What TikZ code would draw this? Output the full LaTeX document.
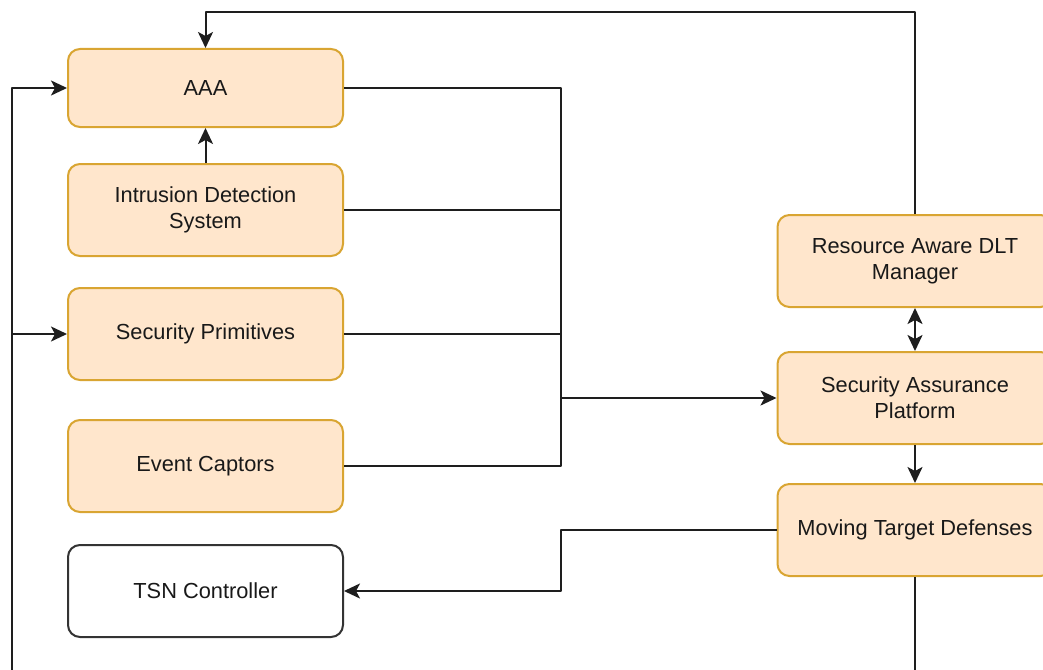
\documentclass[tikz,border=0pt]{standalone}
\usepackage{fontspec}
\setmainfont{Liberation Sans}
\usetikzlibrary{arrows.meta}
\definecolor{boxfill}{HTML}{FFE6CC}
\definecolor{boxline}{HTML}{D9A532}
\definecolor{linecol}{HTML}{1E1E1E}
\definecolor{tsnline}{HTML}{333333}
\tikzset{
  box/.style={draw=boxline, fill=boxfill, line width=2pt, rounded corners=12pt,
    minimum width=275pt, minimum height=92pt, align=center, inner sep=0pt,
    text=black!90, font=\fontsize{21.8pt}{26pt}\selectfont},
  whitebox/.style={box, draw=tsnline, fill=white},
  conn/.style={draw=linecol, line width=2pt},
  tip/.style={},
  arr/.style={conn, -{Stealth[length=16pt,width=15pt,inset=4pt]}},
  darr/.style={conn, {Stealth[length=16pt,width=15pt,inset=4pt]}-{Stealth[length=16pt,width=15pt,inset=4pt]}}
}
\begin{document}
\begin{tikzpicture}[x=1pt, y=-1pt]
\useasboundingbox (0,0) rectangle (1043,669);
\clip (0,0) rectangle (1043,669);
\fill[white] (0,0) rectangle (1043,669);

\node[box, minimum height=78pt] (aaa) at (205.5,88) {AAA};
\node[box] (ids) at (205.5,210) {Intrusion Detection\\System};
\node[box] (sp) at (205.5,334) {Security Primitives};
\node[box] (ec) at (205.5,466) {Event Captors};
\node[whitebox] (tsn) at (205.5,591) {TSN Controller};

\node[box] (radlt) at (915,261) {Resource Aware DLT\\Manager};
\node[box] (sap) at (915,398) {Security Assurance\\Platform};
\node[box] (mtd) at (915,530) {Moving Target Defenses};

\coordinate (bt) at (561,88);
\coordinate (bm) at (561,398);
\coordinate (mt) at (561,530);
\coordinate (tr) at (915,12);
\coordinate (tl) at (205.5,12);
\coordinate (lb) at (12,700);

% bus to Security Assurance Platform
\draw[conn, line join=round] (aaa.east) -- (bt) |- (ec.east);
\draw[conn] (ids.east) -- (ids.east -| bt);
\draw[conn] (sp.east) -- (sp.east -| bt);
\draw[arr] (bm) -- (sap.west);

% IDS to AAA
\draw[arr] (ids.north) -- (aaa.south);

% DLT manager to AAA (top)
\draw[arr, line join=round] (radlt.north) -- (tr) -- (tl) -- (aaa.north);

% right column
\draw[darr] (radlt.south) -- (sap.north);
\draw[arr] (sap.south) -- (mtd.north);

% MTD to TSN controller
\draw[arr, line join=round] (mtd.west) -- (mt) |- (tsn.east);

% MTD feedback loop on the left
\draw[arr, line join=round] (mtd.south) -- (mtd.south |- lb) -- (lb) -- (lb |- aaa.west) -- (aaa.west);
\draw[arr] (lb |- sp.west) -- (sp.west);
\end{tikzpicture}
\end{document}
